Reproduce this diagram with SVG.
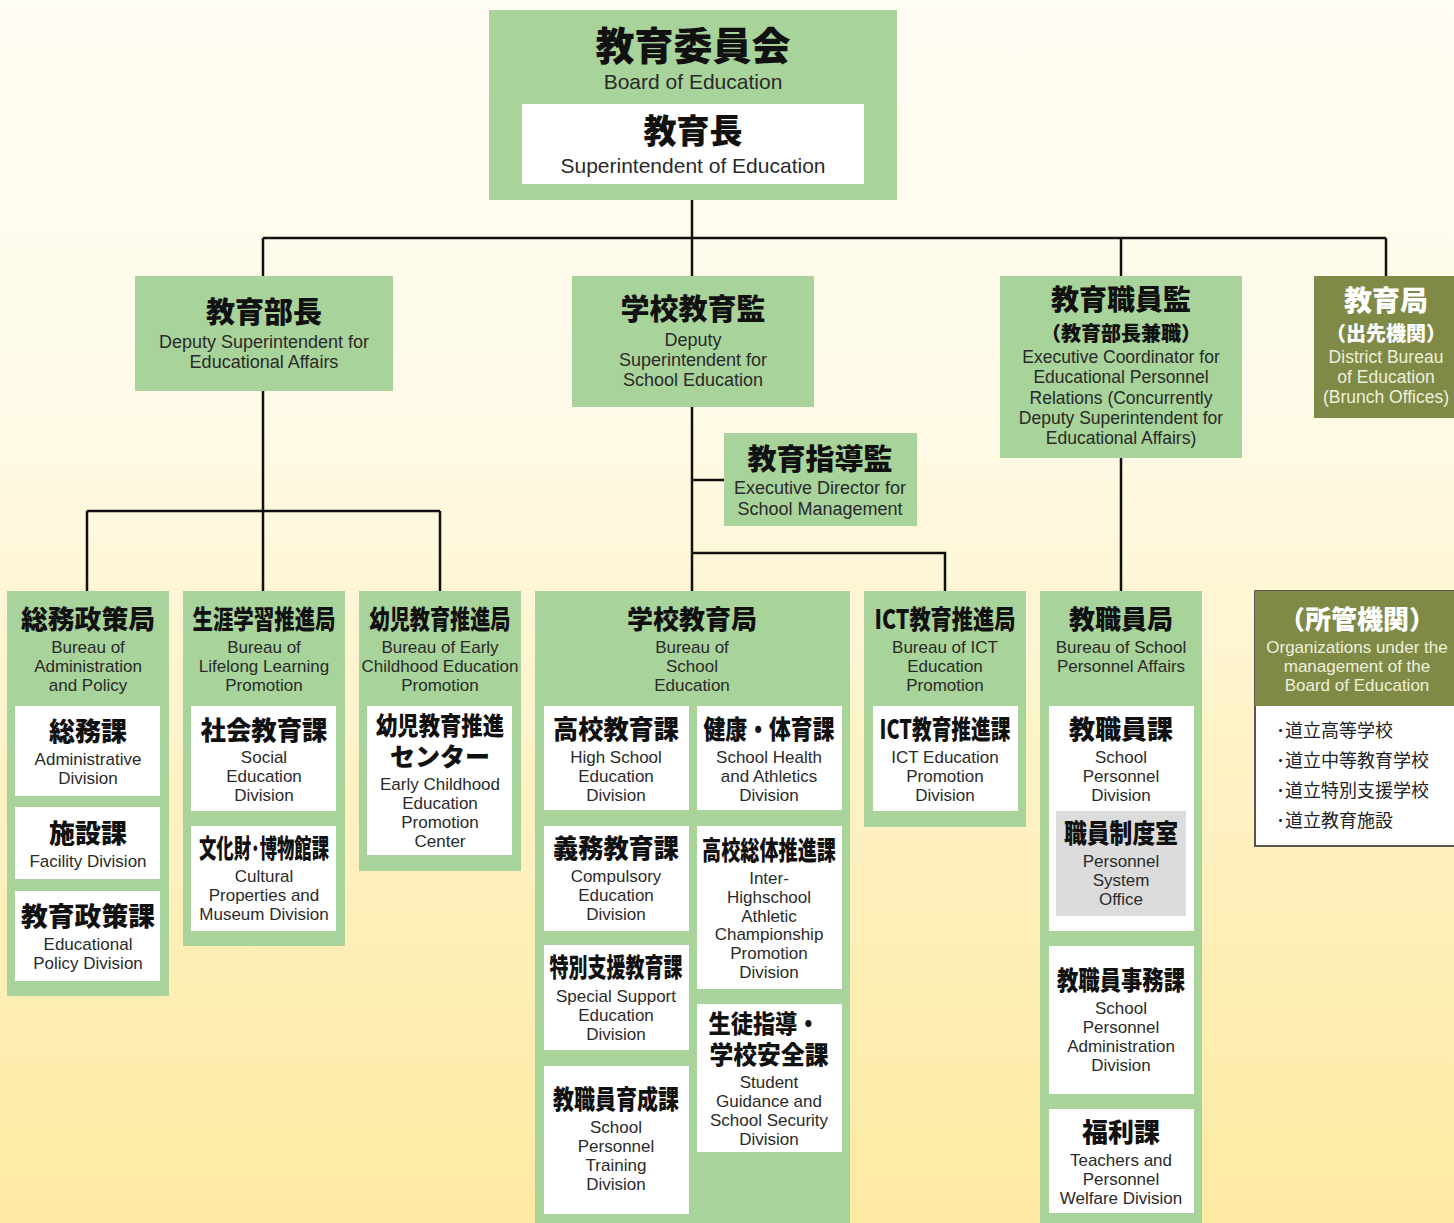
<svg xmlns="http://www.w3.org/2000/svg" width="1454" height="1223" viewBox="0 0 1454 1223">
<defs>
<linearGradient id="bg" x1="0" y1="0" x2="0" y2="1">
<stop offset="0" stop-color="#fffdf4"/>
<stop offset="0.35" stop-color="#fffae6"/>
<stop offset="0.65" stop-color="#fff1c2"/>
<stop offset="1" stop-color="#feeaa2"/>
</linearGradient>
<style>
.g{fill:#a8d39a}
.w{fill:#ffffff}
.o{fill:#7e8a46}
.gr{fill:#dcdcdc}
.jt{font-family:"Noto Sans CJK JP","Noto Sans CJK SC",sans-serif;font-weight:900;text-anchor:middle;fill:#111;font-size:26px}
.jw{fill:#ffffff}
.en{font-family:"Liberation Sans",Arial,sans-serif;font-size:17px;text-anchor:middle;fill:#2a2a2a}
.el{fill:#eef0dc}
.li{font-family:"Noto Sans CJK JP","Noto Sans CJK SC",sans-serif;font-size:18px;fill:#222}
.cn{fill:none;stroke:#111;stroke-width:2.5}
</style>
</defs>
<rect x="0" y="0" width="1454" height="1223" fill="url(#bg)"/>

<g id="connectors">
<path class="cn" d="M692,200 V276 M263,238 H1386 M263,238 V276 M1121,238 V276 M1386,238 V276"/>
<path class="cn" d="M263,391 V591 M87,511 H440 M87,511 V591 M440,511 V591"/>
<path class="cn" d="M692,407 V591 M692,480 H724 M692,553 H945 V591"/>
<path class="cn" d="M1121,458 V591"/>
</g>

<g id="board">
<rect class="g" x="489" y="10" width="408" height="190"/>
<text class="jt" x="693" y="60" style="font-size:39px">教育委員会</text>
<text class="en" x="693" y="89" style="font-size:21px">Board of Education</text>
<rect class="w" x="522" y="104" width="342" height="80"/>
<text class="jt" x="693" y="143" style="font-size:33px">教育長</text>
<text class="en" x="693" y="173" style="font-size:21px">Superintendent of Education</text>
</g>

<g id="deputy-edu">
<rect class="g" x="135" y="276" width="258" height="115"/>
<text class="jt" x="264" y="323" style="font-size:29px">教育部長</text>
<text class="en" x="264" y="348" style="font-size:18px">Deputy Superintendent for</text>
<text class="en" x="264" y="368" style="font-size:18px">Educational Affairs</text>
</g>

<g id="deputy-school">
<rect class="g" x="572" y="276" width="242" height="131"/>
<text class="jt" x="693" y="320" style="font-size:29px">学校教育監</text>
<text class="en" x="693" y="346" style="font-size:18px">Deputy</text>
<text class="en" x="693" y="366" style="font-size:18px">Superintendent for</text>
<text class="en" x="693" y="386" style="font-size:18px">School Education</text>
</g>

<g id="exec-director">
<rect class="g" x="724" y="433" width="193" height="93"/>
<text class="jt" x="820" y="470" style="font-size:29px">教育指導監</text>
<text class="en" x="820" y="494" style="font-size:18px">Executive Director for</text>
<text class="en" x="820" y="515" style="font-size:18px">School Management</text>
</g>

<g id="exec-coordinator">
<rect class="g" x="1000" y="276" width="242" height="182"/>
<text class="jt" x="1121" y="310" style="font-size:28px">教育職員監</text>
<text class="jt" x="1121" y="341" style="font-size:20px">（教育部長兼職）</text>
<text class="en" x="1121" y="363" style="font-size:17.5px">Executive Coordinator for</text>
<text class="en" x="1121" y="383" style="font-size:17.5px">Educational Personnel</text>
<text class="en" x="1121" y="404" style="font-size:17.5px">Relations (Concurrently</text>
<text class="en" x="1121" y="424" style="font-size:17.5px">Deputy Superintendent for</text>
<text class="en" x="1121" y="444" style="font-size:17.5px">Educational Affairs)</text>
</g>

<g id="district-bureau">
<rect class="o" x="1314" y="276" width="140" height="142"/>
<text class="jt jw" x="1386" y="311" style="font-size:28px">教育局</text>
<text class="jt jw" x="1386" y="341" style="font-size:20px">（出先機関）</text>
<text class="en el" x="1386" y="363" style="font-size:17.5px">District Bureau</text>
<text class="en el" x="1386" y="383" style="font-size:17.5px">of Education</text>
<text class="en el" x="1386" y="403" style="font-size:17.5px">(Brunch Offices)</text>
</g>

<g id="bureau-admin">
<rect class="g" x="7" y="591" width="162" height="405"/>
<text class="jt" x="88" y="629" textLength="134" lengthAdjust="spacingAndGlyphs">総務政策局</text>
<text class="en" x="88" y="653">Bureau of</text>
<text class="en" x="88" y="672">Administration</text>
<text class="en" x="88" y="691">and Policy</text>
</g>
<g id="div-admin">
<rect class="w" x="15" y="706" width="145" height="90"/>
<text class="jt" x="88" y="741">総務課</text>
<text class="en" x="88" y="765">Administrative</text>
<text class="en" x="88" y="784">Division</text>
</g>
<g id="div-facility">
<rect class="w" x="15" y="807" width="145" height="72"/>
<text class="jt" x="88" y="843">施設課</text>
<text class="en" x="88" y="867">Facility Division</text>
</g>
<g id="div-policy">
<rect class="w" x="15" y="891" width="145" height="90"/>
<text class="jt" x="88" y="926" textLength="134" lengthAdjust="spacingAndGlyphs">教育政策課</text>
<text class="en" x="88" y="950">Educational</text>
<text class="en" x="88" y="969">Policy Division</text>
</g>

<g id="bureau-lifelong">
<rect class="g" x="183" y="591" width="162" height="355"/>
<text class="jt" x="264" y="629" textLength="143" lengthAdjust="spacingAndGlyphs">生涯学習推進局</text>
<text class="en" x="264" y="653">Bureau of</text>
<text class="en" x="264" y="672">Lifelong Learning</text>
<text class="en" x="264" y="691">Promotion</text>
</g>
<g id="div-social">
<rect class="w" x="191" y="706" width="145" height="105"/>
<text class="jt" x="264" y="740" textLength="127" lengthAdjust="spacingAndGlyphs">社会教育課</text>
<text class="en" x="264" y="763">Social</text>
<text class="en" x="264" y="782">Education</text>
<text class="en" x="264" y="801">Division</text>
</g>
<g id="div-cultural">
<rect class="w" x="191" y="826" width="145" height="105"/>
<text class="jt" x="264" y="858" textLength="130" lengthAdjust="spacingAndGlyphs">文化財･博物館課</text>
<text class="en" x="264" y="882">Cultural</text>
<text class="en" x="264" y="901">Properties and</text>
<text class="en" x="264" y="920">Museum Division</text>
</g>

<g id="bureau-early">
<rect class="g" x="359" y="591" width="162" height="280"/>
<text class="jt" x="440" y="629" textLength="141" lengthAdjust="spacingAndGlyphs">幼児教育推進局</text>
<text class="en" x="440" y="653">Bureau of Early</text>
<text class="en" x="440" y="672">Childhood Education</text>
<text class="en" x="440" y="691">Promotion</text>
</g>
<g id="center-early">
<rect class="w" x="367" y="706" width="145" height="149"/>
<text class="jt" x="440" y="735" style="font-size:25px" textLength="128" lengthAdjust="spacingAndGlyphs">幼児教育推進</text>
<text class="jt" x="440" y="766" style="font-size:25px">センター</text>
<text class="en" x="440" y="790">Early Childhood</text>
<text class="en" x="440" y="809">Education</text>
<text class="en" x="440" y="828">Promotion</text>
<text class="en" x="440" y="847">Center</text>
</g>

<g id="bureau-school">
<rect class="g" x="535" y="591" width="315" height="632"/>
<text class="jt" x="692" y="629">学校教育局</text>
<text class="en" x="692" y="653">Bureau of</text>
<text class="en" x="692" y="672">School</text>
<text class="en" x="692" y="691">Education</text>
</g>
<g id="div-highschool">
<rect class="w" x="544" y="706" width="145" height="104"/>
<text class="jt" x="616" y="739" textLength="126" lengthAdjust="spacingAndGlyphs">高校教育課</text>
<text class="en" x="616" y="763">High School</text>
<text class="en" x="616" y="782">Education</text>
<text class="en" x="616" y="801">Division</text>
</g>
<g id="div-health">
<rect class="w" x="697" y="706" width="145" height="104"/>
<text class="jt" x="769" y="739" textLength="131" lengthAdjust="spacingAndGlyphs">健康・体育課</text>
<text class="en" x="769" y="763">School Health</text>
<text class="en" x="769" y="782">and Athletics</text>
<text class="en" x="769" y="801">Division</text>
</g>
<g id="div-compulsory">
<rect class="w" x="544" y="826" width="145" height="105"/>
<text class="jt" x="616" y="858" textLength="126" lengthAdjust="spacingAndGlyphs">義務教育課</text>
<text class="en" x="616" y="882">Compulsory</text>
<text class="en" x="616" y="901">Education</text>
<text class="en" x="616" y="920">Division</text>
</g>
<g id="div-athletic">
<rect class="w" x="697" y="826" width="145" height="163"/>
<text class="jt" x="769" y="860" textLength="134" lengthAdjust="spacingAndGlyphs">高校総体推進課</text>
<text class="en" x="769" y="884">Inter-</text>
<text class="en" x="769" y="903">Highschool</text>
<text class="en" x="769" y="922">Athletic</text>
<text class="en" x="769" y="940">Championship</text>
<text class="en" x="769" y="959">Promotion</text>
<text class="en" x="769" y="978">Division</text>
</g>
<g id="div-special">
<rect class="w" x="544" y="945" width="145" height="105"/>
<text class="jt" x="616" y="977" textLength="133" lengthAdjust="spacingAndGlyphs">特別支援教育課</text>
<text class="en" x="616" y="1002">Special Support</text>
<text class="en" x="616" y="1021">Education</text>
<text class="en" x="616" y="1040">Division</text>
</g>
<g id="div-guidance">
<rect class="w" x="697" y="1004" width="145" height="148"/>
<text class="jt" x="764" y="1033" style="font-size:25px" textLength="111" lengthAdjust="spacingAndGlyphs">生徒指導・</text>
<text class="jt" x="769" y="1064" style="font-size:25px" textLength="119" lengthAdjust="spacingAndGlyphs">学校安全課</text>
<text class="en" x="769" y="1088">Student</text>
<text class="en" x="769" y="1107">Guidance and</text>
<text class="en" x="769" y="1126">School Security</text>
<text class="en" x="769" y="1145">Division</text>
</g>
<g id="div-training">
<rect class="w" x="544" y="1066" width="145" height="148"/>
<text class="jt" x="616" y="1109" textLength="126" lengthAdjust="spacingAndGlyphs">教職員育成課</text>
<text class="en" x="616" y="1133">School</text>
<text class="en" x="616" y="1152">Personnel</text>
<text class="en" x="616" y="1171">Training</text>
<text class="en" x="616" y="1190">Division</text>
</g>

<g id="bureau-ict">
<rect class="g" x="864" y="591" width="162" height="236"/>
<text class="jt" x="945" y="629" textLength="141" lengthAdjust="spacingAndGlyphs">ICT教育推進局</text>
<text class="en" x="945" y="653">Bureau of ICT</text>
<text class="en" x="945" y="672">Education</text>
<text class="en" x="945" y="691">Promotion</text>
</g>
<g id="div-ict">
<rect class="w" x="873" y="706" width="145" height="105"/>
<text class="jt" x="945" y="739" textLength="131" lengthAdjust="spacingAndGlyphs">ICT教育推進課</text>
<text class="en" x="945" y="763">ICT Education</text>
<text class="en" x="945" y="782">Promotion</text>
<text class="en" x="945" y="801">Division</text>
</g>

<g id="bureau-personnel">
<rect class="g" x="1040" y="591" width="162" height="632"/>
<text class="jt" x="1121" y="629">教職員局</text>
<text class="en" x="1121" y="653">Bureau of School</text>
<text class="en" x="1121" y="672">Personnel Affairs</text>
</g>
<g id="div-personnel">
<rect class="w" x="1049" y="706" width="145" height="225"/>
<text class="jt" x="1121" y="739">教職員課</text>
<text class="en" x="1121" y="763">School</text>
<text class="en" x="1121" y="782">Personnel</text>
<text class="en" x="1121" y="801">Division</text>
</g>
<g id="office-system">
<rect class="gr" x="1056" y="811" width="130" height="105"/>
<text class="jt" x="1121" y="843" textLength="114" lengthAdjust="spacingAndGlyphs">職員制度室</text>
<text class="en" x="1121" y="867">Personnel</text>
<text class="en" x="1121" y="886">System</text>
<text class="en" x="1121" y="905">Office</text>
</g>
<g id="div-personnel-admin">
<rect class="w" x="1049" y="946" width="145" height="148"/>
<text class="jt" x="1121" y="990" textLength="128" lengthAdjust="spacingAndGlyphs">教職員事務課</text>
<text class="en" x="1121" y="1014">School</text>
<text class="en" x="1121" y="1033">Personnel</text>
<text class="en" x="1121" y="1052">Administration</text>
<text class="en" x="1121" y="1071">Division</text>
</g>
<g id="div-welfare">
<rect class="w" x="1049" y="1109" width="145" height="104"/>
<text class="jt" x="1121" y="1142">福利課</text>
<text class="en" x="1121" y="1166">Teachers and</text>
<text class="en" x="1121" y="1185">Personnel</text>
<text class="en" x="1121" y="1204">Welfare Division</text>
</g>

<g id="organizations">
<rect x="1255" y="591" width="210" height="255" fill="#ffffff" stroke="#222" stroke-width="1.5"/>
<rect class="o" x="1255" y="591" width="210" height="115"/>
<text class="jt jw" x="1357" y="629">（所管機関）</text>
<text class="en el" x="1357" y="653">Organizations under the</text>
<text class="en el" x="1357" y="672">management of the</text>
<text class="en el" x="1357" y="691">Board of Education</text>
<text class="li" x="1276" y="737">･道立高等学校</text>
<text class="li" x="1276" y="767">･道立中等教育学校</text>
<text class="li" x="1276" y="797">･道立特別支援学校</text>
<text class="li" x="1276" y="827">･道立教育施設</text>
</g>
</svg>
